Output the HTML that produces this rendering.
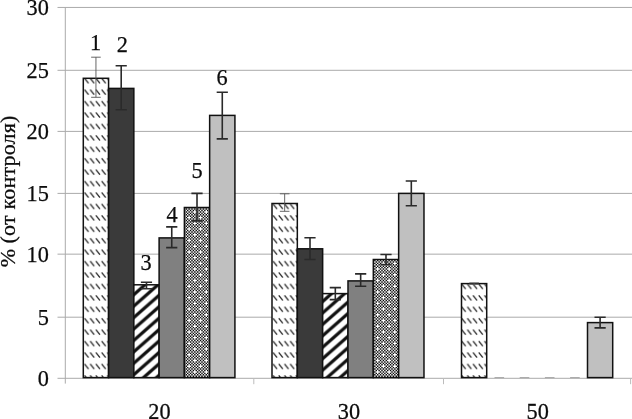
<!DOCTYPE html>
<html lang="ru">
<head>
<meta charset="utf-8">
<title>Chart</title>
<style>
html,body{margin:0;padding:0;background:#fff;}
body{width:632px;height:419px;overflow:hidden;}
svg{display:block;filter:blur(0.3px);}
text{font-family:"Liberation Serif",serif;fill:#0c0c0c;stroke:#0c0c0c;stroke-width:0.25px;}
</style>
</head>
<body>
<svg width="632" height="419" viewBox="0 0 632 419">
<defs>
<pattern id="p1" patternUnits="userSpaceOnUse" x="83.8" y="-2.1" width="5.714" height="11.429"><rect width="5.714" height="11.429" fill="#fff"/><path d="M0.7 0.4 L4.714 5.314" stroke="#262626" stroke-width="1.35" fill="none"/></pattern>
<pattern id="p3" patternUnits="userSpaceOnUse" x="133.6" y="-2.3" width="12.987" height="11.429"><rect width="12.987" height="11.429" fill="#fff"/><path d="M-12.987 11.429 L12.987 -11.429 M0 11.429 L12.987 0 M0 22.858 L25.975 0" stroke="#111" stroke-width="3.25" fill="none"/></pattern>
<pattern id="p3b" patternUnits="userSpaceOnUse" x="323.4" y="3.7" width="12.987" height="11.429"><rect width="12.987" height="11.429" fill="#fff"/><path d="M-12.987 11.429 L12.987 -11.429 M0 11.429 L12.987 0 M0 22.858 L25.975 0" stroke="#111" stroke-width="3.25" fill="none"/></pattern>
</defs>
<rect width="632" height="419" fill="#fff"/>
<g stroke="#aaaaaa" stroke-width="1" fill="none">
<path d="M57.5 7.45 H632"/>
<path d="M57.5 70.30 H632"/>
<path d="M57.5 131.40 H632"/>
<path d="M57.5 193.40 H632"/>
<path d="M57.5 254.15 H632"/>
<path d="M57.5 317.20 H632"/>
<path d="M57.5 378.30 H632"/>
<path d="M65.3 7.45 V383.6"/>
<path d="M253.8 378.3 V384.2" stroke="#bcbcbc"/>
<path d="M443.5 378.3 V384.2" stroke="#bcbcbc"/>
<path d="M630.6 378.3 V384.2" stroke="#bcbcbc"/>
</g>
<rect x="83.30" y="78.30" width="25.27" height="299.30" fill="url(#p1)" stroke="#111" stroke-width="1.5"/>
<rect x="108.57" y="88.40" width="25.27" height="289.20" fill="#3a3a3a" stroke="#111" stroke-width="1.5"/>
<rect x="133.84" y="284.80" width="25.27" height="92.80" fill="url(#p3)" stroke="#111" stroke-width="1.5"/>
<rect x="159.11" y="237.90" width="25.27" height="139.70" fill="#808080" stroke="#111" stroke-width="1.5"/>
<rect x="184.38" y="207.50" width="25.27" height="170.10" fill="#fbfbfb"/>
<clipPath id="c50"><rect x="184.38" y="207.50" width="25.27" height="170.10"/></clipPath><g clip-path="url(#c50)" stroke="#080808" stroke-width="1.4286" fill="none"><path stroke-dasharray="1.4286 1.4286 1.4286 1.4286 1.4286 4.2858" d="M174.128 211.933H210.7M179.843 217.647H210.7M174.128 223.362H210.7M179.843 229.076H210.7M174.128 234.790H210.7M179.843 240.505H210.7M174.128 246.219H210.7M179.843 251.934H210.7M174.128 257.648H210.7M179.843 263.362H210.7M174.128 269.077H210.7M179.843 274.791H210.7M174.128 280.506H210.7M179.843 286.220H210.7M174.128 291.934H210.7M179.843 297.649H210.7M174.128 303.363H210.7M179.843 309.078H210.7M174.128 314.792H210.7M179.843 320.506H210.7M174.128 326.221H210.7M179.843 331.935H210.7M174.128 337.650H210.7M179.843 343.364H210.7M174.128 349.078H210.7M179.843 354.793H210.7M174.128 360.507H210.7M179.843 366.222H210.7M174.128 371.936H210.7M179.843 377.650H210.7"/><path stroke-dasharray="1.4286 1.4286" d="M172.700 207.647H210.7M171.271 209.076H210.7M172.700 210.504H210.7M172.700 213.361H210.7M171.271 214.790H210.7M172.700 216.219H210.7M172.700 219.076H210.7M171.271 220.504H210.7M172.700 221.933H210.7M172.700 224.790H210.7M171.271 226.219H210.7M172.700 227.647H210.7M172.700 230.505H210.7M171.271 231.933H210.7M172.700 233.362H210.7M172.700 236.219H210.7M171.271 237.648H210.7M172.700 239.076H210.7M172.700 241.933H210.7M171.271 243.362H210.7M172.700 244.791H210.7M172.700 247.648H210.7M171.271 249.076H210.7M172.700 250.505H210.7M172.700 253.362H210.7M171.271 254.791H210.7M172.700 256.219H210.7M172.700 259.077H210.7M171.271 260.505H210.7M172.700 261.934H210.7M172.700 264.791H210.7M171.271 266.220H210.7M172.700 267.648H210.7M172.700 270.505H210.7M171.271 271.934H210.7M172.700 273.363H210.7M172.700 276.220H210.7M171.271 277.648H210.7M172.700 279.077H210.7M172.700 281.934H210.7M171.271 283.363H210.7M172.700 284.791H210.7M172.700 287.649H210.7M171.271 289.077H210.7M172.700 290.506H210.7M172.700 293.363H210.7M171.271 294.792H210.7M172.700 296.220H210.7M172.700 299.077H210.7M171.271 300.506H210.7M172.700 301.935H210.7M172.700 304.792H210.7M171.271 306.220H210.7M172.700 307.649H210.7M172.700 310.506H210.7M171.271 311.935H210.7M172.700 313.363H210.7M172.700 316.221H210.7M171.271 317.649H210.7M172.700 319.078H210.7M172.700 321.935H210.7M171.271 323.364H210.7M172.700 324.792H210.7M172.700 327.649H210.7M171.271 329.078H210.7M172.700 330.507H210.7M172.700 333.364H210.7M171.271 334.792H210.7M172.700 336.221H210.7M172.700 339.078H210.7M171.271 340.507H210.7M172.700 341.935H210.7M172.700 344.793H210.7M171.271 346.221H210.7M172.700 347.650H210.7M172.700 350.507H210.7M171.271 351.936H210.7M172.700 353.364H210.7M172.700 356.221H210.7M171.271 357.650H210.7M172.700 359.079H210.7M172.700 361.936H210.7M171.271 363.364H210.7M172.700 364.793H210.7M172.700 367.650H210.7M171.271 369.079H210.7M172.700 370.507H210.7M172.700 373.365H210.7M171.271 374.793H210.7M172.700 376.222H210.7M172.700 379.079H210.7"/></g>
<rect x="184.38" y="207.50" width="25.27" height="170.10" fill="none" stroke="#111" stroke-width="1.5"/>
<rect x="209.65" y="115.40" width="25.27" height="262.20" fill="#c0c0c0" stroke="#111" stroke-width="1.5"/>
<rect x="272.00" y="203.50" width="25.33" height="174.10" fill="url(#p1)" stroke="#111" stroke-width="1.5"/>
<rect x="297.33" y="248.80" width="25.33" height="128.80" fill="#3a3a3a" stroke="#111" stroke-width="1.5"/>
<rect x="322.66" y="293.60" width="25.33" height="84.00" fill="url(#p3b)" stroke="#111" stroke-width="1.5"/>
<rect x="347.99" y="280.90" width="25.33" height="96.70" fill="#808080" stroke="#111" stroke-width="1.5"/>
<rect x="373.32" y="259.50" width="25.33" height="118.10" fill="#fbfbfb"/>
<clipPath id="c51"><rect x="373.32" y="259.50" width="25.33" height="118.10"/></clipPath><g clip-path="url(#c51)" stroke="#080808" stroke-width="1.4286" fill="none"><path stroke-dasharray="1.4286 1.4286 1.4286 1.4286 1.4286 4.2858" d="M362.704 263.362H399.6M356.989 269.077H399.6M362.704 274.791H399.6M356.989 280.506H399.6M362.704 286.220H399.6M356.989 291.934H399.6M362.704 297.649H399.6M356.989 303.363H399.6M362.704 309.078H399.6M356.989 314.792H399.6M362.704 320.506H399.6M356.989 326.221H399.6M362.704 331.935H399.6M356.989 337.650H399.6M362.704 343.364H399.6M356.989 349.078H399.6M362.704 354.793H399.6M356.989 360.507H399.6M362.704 366.222H399.6M356.989 371.936H399.6M362.704 377.650H399.6"/><path stroke-dasharray="1.4286 1.4286" d="M355.561 259.077H399.6M354.132 260.505H399.6M355.561 261.934H399.6M355.561 264.791H399.6M354.132 266.220H399.6M355.561 267.648H399.6M355.561 270.505H399.6M354.132 271.934H399.6M355.561 273.363H399.6M355.561 276.220H399.6M354.132 277.648H399.6M355.561 279.077H399.6M355.561 281.934H399.6M354.132 283.363H399.6M355.561 284.791H399.6M355.561 287.649H399.6M354.132 289.077H399.6M355.561 290.506H399.6M355.561 293.363H399.6M354.132 294.792H399.6M355.561 296.220H399.6M355.561 299.077H399.6M354.132 300.506H399.6M355.561 301.935H399.6M355.561 304.792H399.6M354.132 306.220H399.6M355.561 307.649H399.6M355.561 310.506H399.6M354.132 311.935H399.6M355.561 313.363H399.6M355.561 316.221H399.6M354.132 317.649H399.6M355.561 319.078H399.6M355.561 321.935H399.6M354.132 323.364H399.6M355.561 324.792H399.6M355.561 327.649H399.6M354.132 329.078H399.6M355.561 330.507H399.6M355.561 333.364H399.6M354.132 334.792H399.6M355.561 336.221H399.6M355.561 339.078H399.6M354.132 340.507H399.6M355.561 341.935H399.6M355.561 344.793H399.6M354.132 346.221H399.6M355.561 347.650H399.6M355.561 350.507H399.6M354.132 351.936H399.6M355.561 353.364H399.6M355.561 356.221H399.6M354.132 357.650H399.6M355.561 359.079H399.6M355.561 361.936H399.6M354.132 363.364H399.6M355.561 364.793H399.6M355.561 367.650H399.6M354.132 369.079H399.6M355.561 370.507H399.6M355.561 373.365H399.6M354.132 374.793H399.6M355.561 376.222H399.6M355.561 379.079H399.6"/></g>
<rect x="373.32" y="259.50" width="25.33" height="118.10" fill="none" stroke="#111" stroke-width="1.5"/>
<rect x="398.65" y="193.40" width="25.33" height="184.20" fill="#c0c0c0" stroke="#111" stroke-width="1.5"/>
<rect x="461.50" y="283.60" width="25.20" height="94.00" fill="url(#p1)" stroke="#111" stroke-width="1.5"/>
<rect x="587.50" y="322.60" width="25.20" height="55.00" fill="#c0c0c0" stroke="#111" stroke-width="1.5"/>
<path d="M95.94 57.20 V97.30 M91.14 57.20 H100.73 M91.14 97.30 H100.73" stroke="#555" stroke-width="0.9" fill="none"/>
<path d="M121.20 65.80 V109.80 M115.61 65.80 H126.80 M115.61 109.80 H126.80" stroke="#2a2a2a" stroke-width="1.6" fill="none"/>
<path d="M146.47 282.20 V288.80 M140.88 282.20 H152.07 M140.88 288.80 H152.07" stroke="#2a2a2a" stroke-width="1.6" fill="none"/>
<path d="M171.75 226.90 V247.60 M166.15 226.90 H177.34 M166.15 247.60 H177.34" stroke="#2a2a2a" stroke-width="1.6" fill="none"/>
<path d="M197.01 193.40 V220.90 M191.41 193.40 H202.61 M191.41 220.90 H202.61" stroke="#2a2a2a" stroke-width="1.6" fill="none"/>
<path d="M222.28 92.20 V138.90 M216.68 92.20 H227.88 M216.68 138.90 H227.88" stroke="#2a2a2a" stroke-width="1.6" fill="none"/>
<path d="M284.67 193.80 V211.30 M279.87 193.80 H289.47 M279.87 211.30 H289.47" stroke="#555" stroke-width="0.9" fill="none"/>
<path d="M310.00 237.80 V259.50 M304.39 237.80 H315.60 M304.39 259.50 H315.60" stroke="#2a2a2a" stroke-width="1.6" fill="none"/>
<path d="M335.32 287.60 V299.60 M329.72 287.60 H340.93 M329.72 299.60 H340.93" stroke="#2a2a2a" stroke-width="1.6" fill="none"/>
<path d="M360.66 273.90 V286.20 M355.06 273.90 H366.26 M355.06 286.20 H366.26" stroke="#2a2a2a" stroke-width="1.6" fill="none"/>
<path d="M385.99 254.50 V264.50 M380.38 254.50 H391.59 M380.38 264.50 H391.59" stroke="#2a2a2a" stroke-width="1.6" fill="none"/>
<path d="M411.31 181.00 V205.70 M405.71 181.00 H416.92 M405.71 205.70 H416.92" stroke="#2a2a2a" stroke-width="1.6" fill="none"/>
<path d="M474.10 282.90 V284.30 M469.30 282.90 H478.90 M469.30 284.30 H478.90" stroke="#555" stroke-width="0.9" fill="none"/>
<path d="M494.50 377.6 H504.10" stroke="#a8a8a8" stroke-width="1.1" fill="none"/>
<path d="M519.70 377.6 H529.30" stroke="#a8a8a8" stroke-width="1.1" fill="none"/>
<path d="M544.90 377.6 H554.50" stroke="#a8a8a8" stroke-width="1.1" fill="none"/>
<path d="M570.10 377.6 H579.70" stroke="#a8a8a8" stroke-width="1.1" fill="none"/>
<path d="M600.10 317.20 V327.90 M594.50 317.20 H605.70 M594.50 327.90 H605.70" stroke="#2a2a2a" stroke-width="1.6" fill="none"/>
<g font-size="22.3" text-anchor="end">
<text x="48.8" y="14.95">30</text>
<text x="48.8" y="77.80">25</text>
<text x="48.8" y="138.90">20</text>
<text x="48.8" y="200.90">15</text>
<text x="48.8" y="261.65">10</text>
<text x="48.8" y="324.70">5</text>
<text x="48.8" y="385.80">0</text>
</g>
<g font-size="22.3" text-anchor="middle">
<text transform="translate(159.5 419.2) scale(1 1.05)">20</text>
<text transform="translate(349.0 419.2) scale(1 1.05)">30</text>
<text transform="translate(537.7 419.2) scale(1 1.05)">50</text>
</g>
<g font-size="22.3" text-anchor="middle">
<text x="95.5" y="49.7">1</text>
<text x="122.4" y="52.4">2</text>
<text x="146" y="269.5">3</text>
<text x="172.2" y="221.9">4</text>
<text x="197.2" y="178.4">5</text>
<text x="222" y="84.6">6</text>
</g>
<text font-size="22" transform="translate(15.3 267.2) rotate(-90)">%</text>
<text font-size="22" letter-spacing="0.2" transform="translate(15.3 243.4) rotate(-90) scale(1 0.95)">(от контроля)</text>
</svg>
</body>
</html>
